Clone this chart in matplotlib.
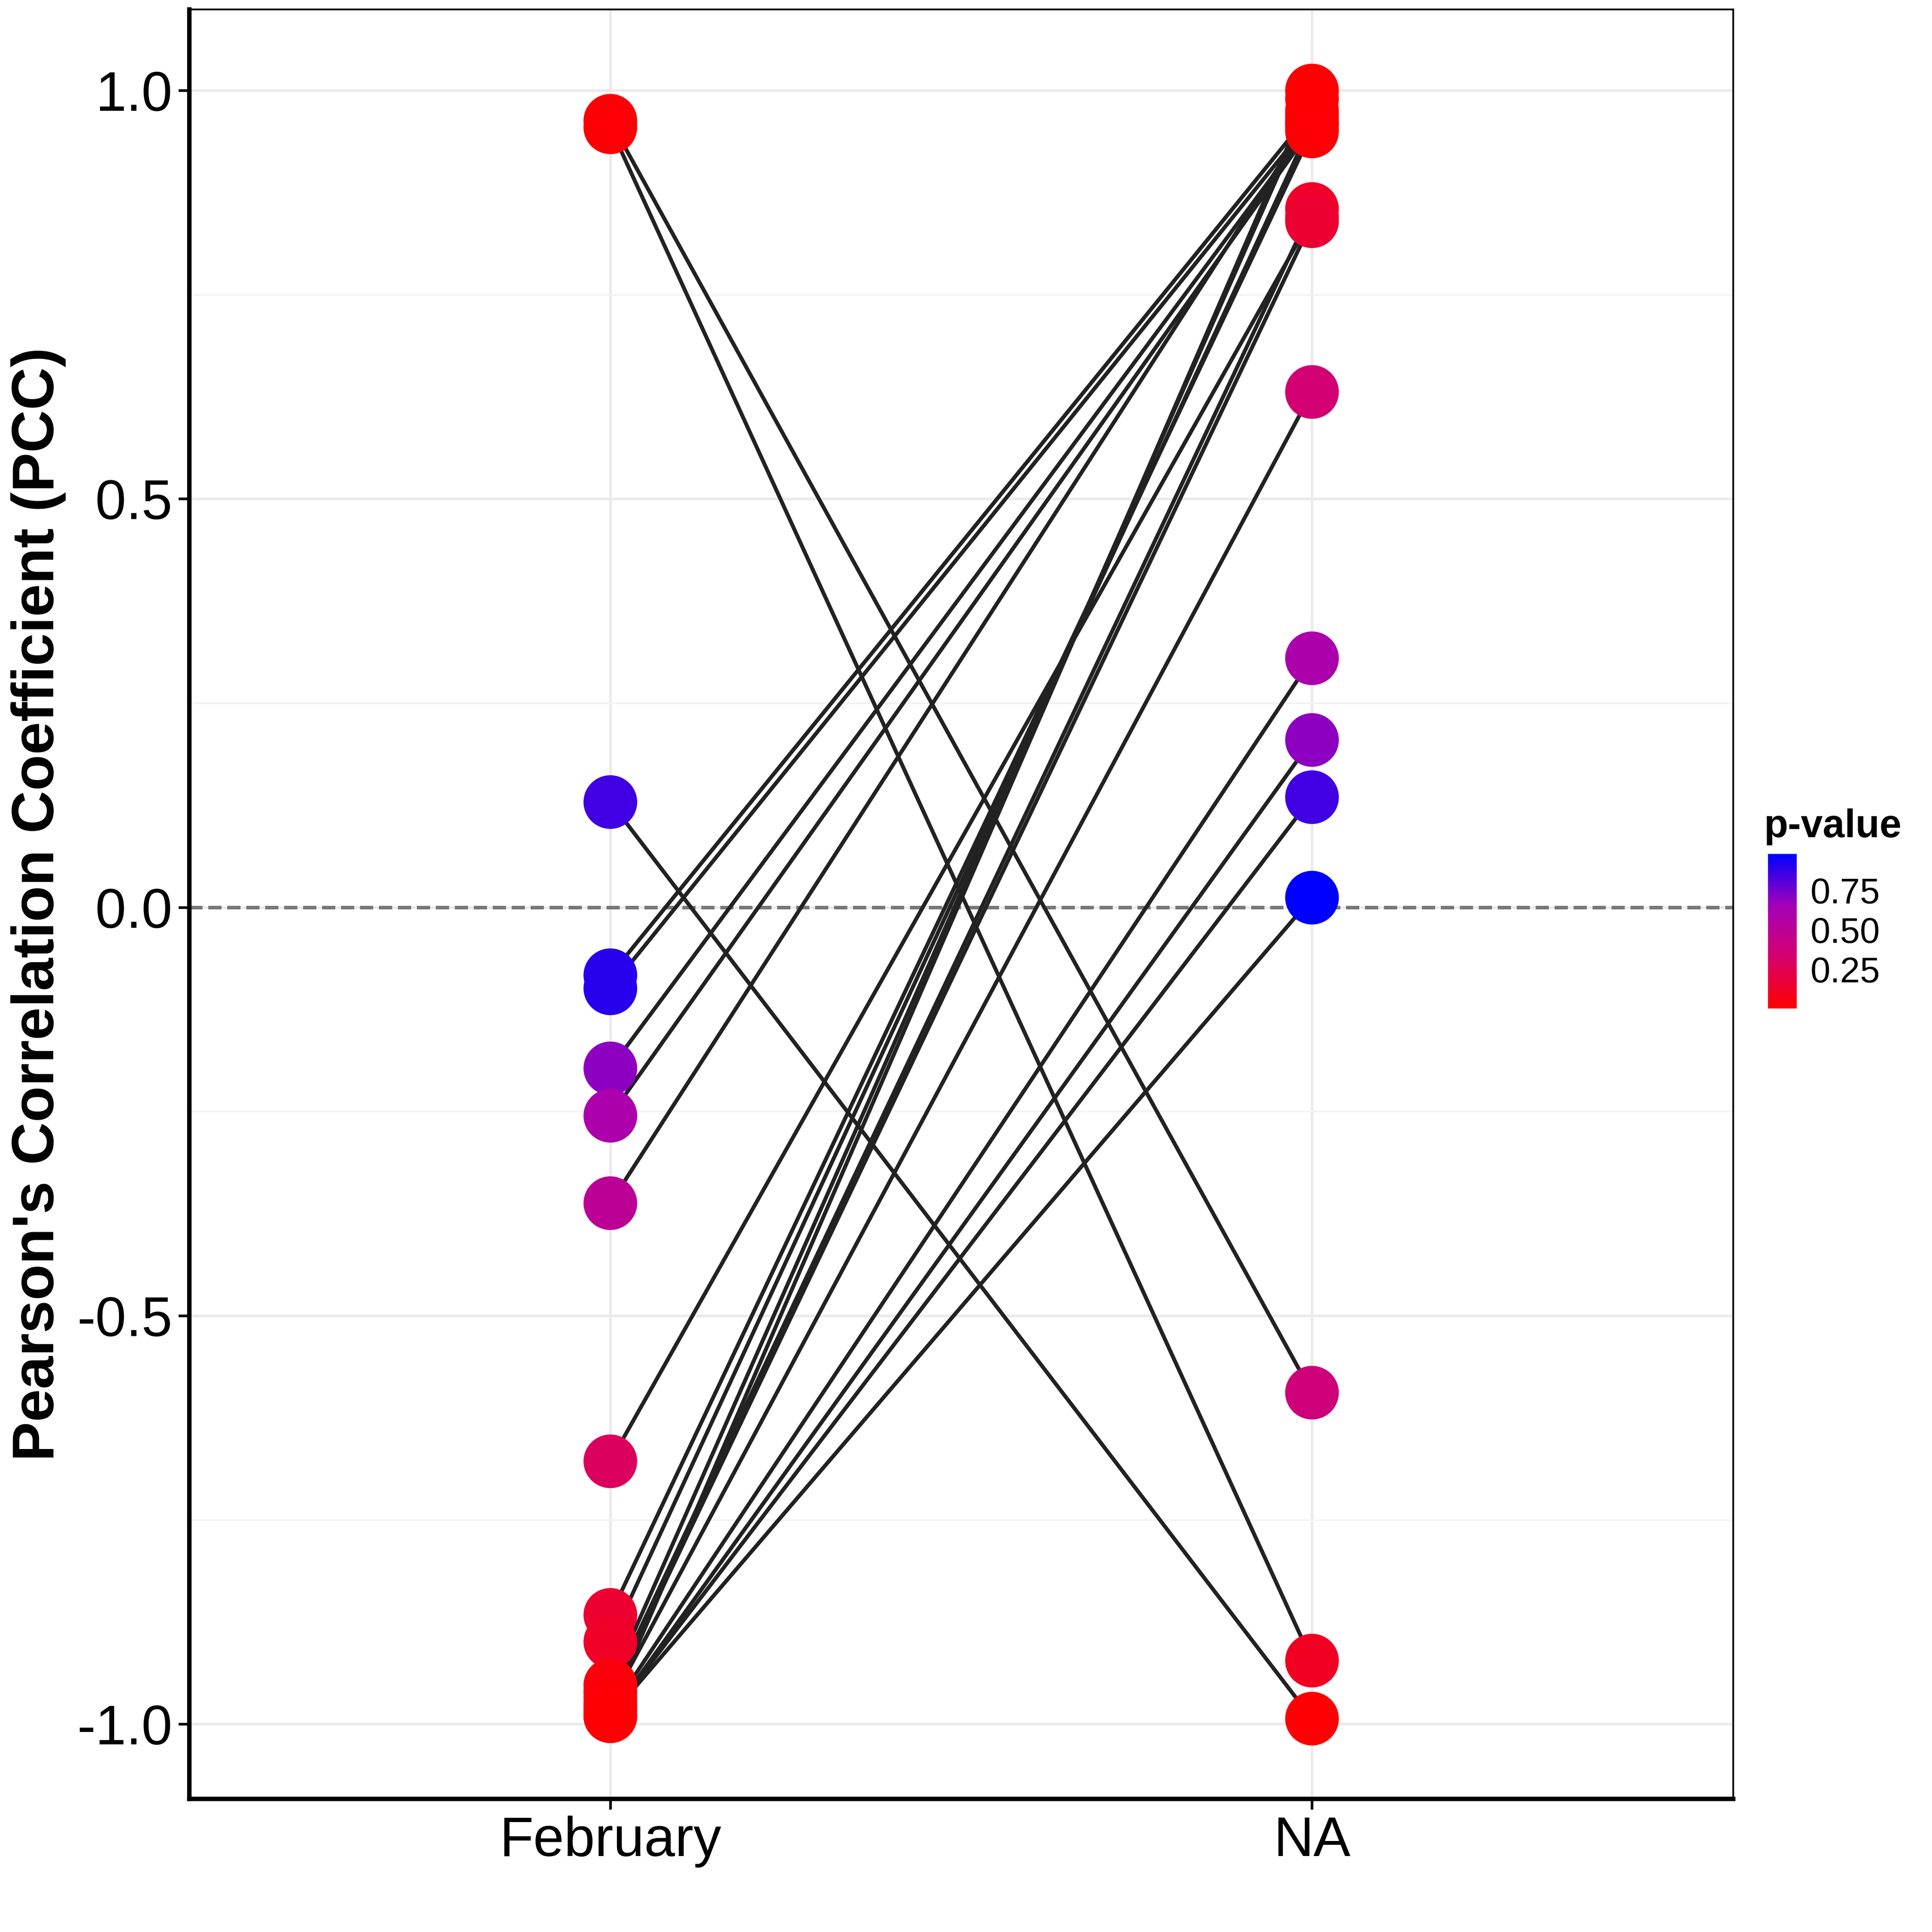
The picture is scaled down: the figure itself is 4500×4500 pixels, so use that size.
import numpy as np
import matplotlib
matplotlib.use('Agg')
import matplotlib.pyplot as plt
from matplotlib.colors import LinearSegmentedColormap, Normalize

plt.rcParams['font.family'] = ['Liberation Sans', 'DejaVu Sans']

groups = ['February', 'NA']
# one entry per paired line
feb_r = [0.963, 0.955, 0.129, -0.083, -0.099, -0.197, -0.255, -0.362, -0.678, -0.866,
         -0.899, -0.952, -0.960, -0.967, -0.975, -0.980, -0.985, -0.990, -0.990, -0.990]
na_r = [-0.594, -0.922, -0.993, 0.975, 0.965, 0.960, 0.955, 0.970, 0.845, 0.950,
        0.960, 0.990, 0.855, 0.840, 0.631, 1.000, 0.305, 0.205, 0.135, 0.012]
feb_p = [0.02, 0.02, 0.85, 0.90, 0.90, 0.70, 0.60, 0.50, 0.28, 0.15,
         0.12, 0.04, 0.04, 0.03, 0.03, 0.02, 0.02, 0.01, 0.01, 0.01]
na_p = [0.38, 0.10, 0.01, 0.02, 0.02, 0.02, 0.02, 0.02, 0.15, 0.02,
        0.02, 0.01, 0.13, 0.15, 0.35, 0.01, 0.60, 0.70, 0.85, 0.98]

cmap = LinearSegmentedColormap.from_list('rb', ['#FF0000', '#D6006E', '#A400B8', '#0000FF'])
norm = Normalize(0, 0.98)

fig = plt.figure(figsize=(15, 15), dpi=300)
ax = fig.add_axes([0.098, 0.069, 0.799, 0.926])

for a, b in zip(feb_r, na_r):
    ax.plot([1, 2], [a, b], color='#222222', lw=2.2, zorder=2)
ax.axhline(0, color='#777777', ls='--', lw=2, zorder=1)
ax.scatter(np.ones(len(feb_r)), feb_r, c=feb_p, cmap=cmap, norm=norm, s=900, zorder=3, linewidths=0)
sc = ax.scatter(np.full(len(na_r), 2), na_r, c=na_p, cmap=cmap, norm=norm, s=900, zorder=3, linewidths=0)

ax.set_xlim(0.4, 2.6)
ax.set_ylim(-1.091, 1.099)
ax.set_xticks([1, 2])
ax.set_xticklabels(groups)
ax.set_yticks([-1.0, -0.5, 0.0, 0.5, 1.0])
ax.set_yticklabels(['-1.0', '-0.5', '0.0', '0.5', '1.0'])
ax.set_yticks([-0.75, -0.25, 0.25, 0.75], minor=True)
ax.grid(True, which='major', color='#EBEBEB', lw=1.5)
ax.grid(True, which='minor', color='#F3F3F3', lw=1.0)
ax.set_axisbelow(True)
ax.tick_params(axis='both', labelsize=31, length=6, width=1.5, colors='black')
ax.tick_params(axis='y', which='minor', length=0)
ax.set_ylabel("Pearson's Correlation Coefficient (PCC)", fontsize=33, fontweight='bold', labelpad=6)
for s in ['left', 'bottom']:
    ax.spines[s].set_linewidth(2.5)
for s in ['top', 'right']:
    ax.spines[s].set_linewidth(1.0)

cax = fig.add_axes([0.915, 0.478, 0.015, 0.08])
cb = fig.colorbar(sc, cax=cax, ticks=[0.25, 0.5, 0.75])
cb.ax.tick_params(labelsize=20, length=4, color='white')
cb.outline.set_visible(False)
fig.text(0.913, 0.572, 'p-value', fontsize=22, fontweight='bold', ha='left', va='center')

fig.savefig('out.png', dpi=300)
